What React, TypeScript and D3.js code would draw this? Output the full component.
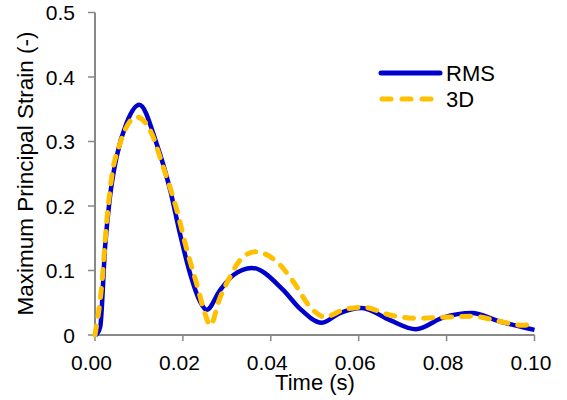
import React from "react";
import * as d3 from "d3";

// Time samples (s) and maximum principal strain for each method
const rmsTime = [0, 0.0005, 0.0012, 0.0023, 0.0034, 0.0049, 0.0072, 0.0101, 0.014, 0.0171, 0.0193, 0.0216, 0.0239, 0.0254, 0.0284, 0.0315, 0.0357, 0.0428, 0.0466, 0.0516, 0.0557, 0.0607, 0.0671, 0.073, 0.0792, 0.0857, 0.0921, 0.1];
const rmsStrain = [0, 0.002, 0.013, 0.137, 0.214, 0.276, 0.329, 0.357, 0.297, 0.225, 0.158, 0.096, 0.052, 0.039, 0.069, 0.093, 0.104, 0.07, 0.041, 0.019, 0.034, 0.042, 0.023, 0.009, 0.027, 0.034, 0.021, 0.008];

const d3Time = [0, 0.0015, 0.0027, 0.0038, 0.0057, 0.0095, 0.0125, 0.0155, 0.0186, 0.0209, 0.0231, 0.025, 0.0262, 0.0284, 0.0307, 0.033, 0.0364, 0.0413, 0.0451, 0.0489, 0.0523, 0.0565, 0.061, 0.0671, 0.0732, 0.0808, 0.0861, 0.0921, 0.0974, 0.1];
const d3Strain = [0, 0.075, 0.178, 0.245, 0.297, 0.338, 0.318, 0.261, 0.194, 0.132, 0.08, 0.034, 0.015, 0.057, 0.09, 0.116, 0.129, 0.114, 0.083, 0.044, 0.028, 0.039, 0.043, 0.031, 0.026, 0.028, 0.029, 0.021, 0.015, 0.019];

const xTicks = [0, 0.02, 0.04, 0.06, 0.08, 0.1];
const xTickLabels = ["0.00", "0.02", "0.04", "0.06", "0.08", "0.10"];
const yTicks = [0, 0.1, 0.2, 0.3, 0.4, 0.5];
const yTickLabels = ["0", "0.1", "0.2", "0.3", "0.4", "0.5"];

const seriesNames = ["RMS", "3D"];

const W = 567;
const H = 400;
const FONT = "'Liberation Sans', Arial, Helvetica, sans-serif";
const BLUE = "#0000cc";
const GOLD = "#ffc000";
const AXIS = "#888888";

export default function App() {
  const x = d3.scaleLinear().domain([0, 0.1]).range([95, 534.5]);
  const y = d3.scaleLinear().domain([0, 0.5]).range([335, 12.5]);

  const line = d3
    .line<[number, number]>()
    .x((d) => x(d[0]))
    .y((d) => y(d[1]))
    .curve(d3.curveMonotoneX);

  const rmsPath = line(rmsTime.map((t, i) => [t, rmsStrain[i]] as [number, number])) || "";
  const d3Path = line(d3Time.map((t, i) => [t, d3Strain[i]] as [number, number])) || "";

  return (
    <svg
      width={W}
      height={H}
      style={{ position: "absolute", left: 0, top: 0 }}
      fontFamily={FONT}
    >
      <rect width={W} height={H} fill="#fff" />

      {/* axes */}
      <line x1={x(0)} x2={x(0)} y1={y(0.5)} y2={y(0)} stroke={AXIS} strokeWidth={2} />
      <line x1={x(0)} x2={x(0.1)} y1={y(0)} y2={y(0)} stroke={AXIS} strokeWidth={2} />
      {yTicks.map((v, i) => (
        <g key={"y" + i}>
          <line x1={x(0) - 7} x2={x(0)} y1={y(v)} y2={y(v)} stroke={AXIS} strokeWidth={1.5} />
          <text x={75} y={y(v)} dy="0.36em" textAnchor="end" fontSize={21} fill="#000">
            {yTickLabels[i]}
          </text>
        </g>
      ))}
      {xTicks.map((v, i) => (
        <g key={"x" + i}>
          <line x1={x(v)} x2={x(v)} y1={y(0)} y2={y(0) + 6} stroke={AXIS} strokeWidth={1.5} />
          <text x={x(v) - 3.5} y={370} textAnchor="middle" fontSize={21} fill="#000">
            {xTickLabels[i]}
          </text>
        </g>
      ))}

      <text x={315} y={390} textAnchor="middle" fontSize={22} fill="#000">
        Time (s)
      </text>
      <text
        transform="translate(33,173.5) rotate(-90)"
        textAnchor="middle"
        fontSize={22.5}
        fill="#000"
      >
        Maximum Principal Strain (-)
      </text>

      {/* series */}
      <path d={rmsPath} fill="none" stroke={BLUE} strokeWidth={4.5} strokeLinejoin="round" />
      <path
        d={d3Path}
        fill="none"
        stroke={GOLD}
        strokeWidth={5}
        strokeDasharray="9,10"
        strokeLinecap="round"
      />

      {/* legend */}
      <line x1={381} x2={440} y1={73} y2={73} stroke={BLUE} strokeWidth={5} strokeLinecap="round" />
      <text x={446} y={73} dy="0.36em" fontSize={22} fill="#000">
        {seriesNames[0]}
      </text>
      <line
        x1={382}
        x2={432}
        y1={99}
        y2={99}
        stroke={GOLD}
        strokeWidth={5}
        strokeDasharray="9,11"
        strokeLinecap="round"
      />
      <text x={446} y={99} dy="0.36em" fontSize={22} fill="#000">
        {seriesNames[1]}
      </text>
    </svg>
  );
}
